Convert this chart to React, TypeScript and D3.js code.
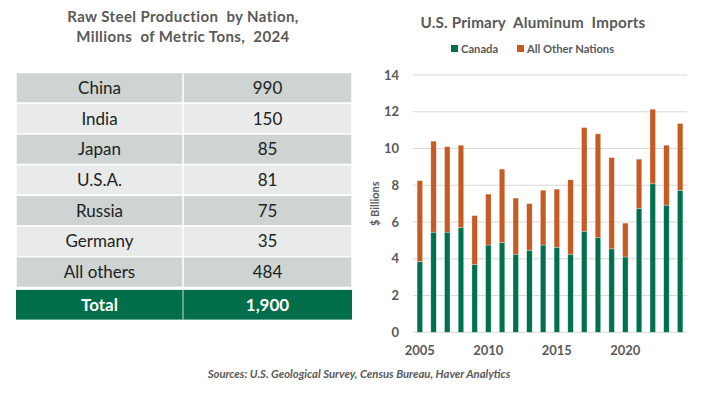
import * as d3 from "d3";
import { useEffect, useRef } from "react";

// ---- table data ----
const nations = ["China", "India", "Japan", "U.S.A.", "Russia", "Germany", "All others"];
const steel = ["990", "150", "85", "81", "75", "35", "484"];
const totalLabel = "Total";
const totalValue = "1,900";

// ---- bar chart data ($ billions) ----
const years = [2005, 2006, 2007, 2008, 2009, 2010, 2011, 2012, 2013, 2014, 2015, 2016, 2017, 2018, 2019, 2020, 2021, 2022, 2023, 2024];
const canada = [3.85, 5.45, 5.45, 5.7, 3.68, 4.75, 4.88, 4.25, 4.47, 4.75, 4.63, 4.25, 5.5, 5.15, 4.54, 4.1, 6.75, 8.08, 6.92, 7.73];
const others = [4.4, 4.95, 4.65, 4.48, 2.67, 2.77, 4.0, 3.05, 2.53, 2.98, 3.16, 4.05, 5.64, 5.65, 4.97, 1.84, 2.67, 4.06, 3.26, 3.63];
const yTicks = [0, 2, 4, 6, 8, 10, 12, 14];
const xTickYears = [2005, 2010, 2015, 2020];

const FONT = "Lato, 'Open Sans', sans-serif";
const GREEN = "#007050";
const ORANGE = "#C55A22";
const GREY = "#595959";

export default function App() {
  const ref = useRef<SVGSVGElement | null>(null);

  useEffect(() => {
    const svg = d3.select(ref.current);
    svg.selectAll("*").remove();
    svg.attr("viewBox", "0 0 716 394").attr("font-family", FONT);

    svg.append("rect").attr("width", 716).attr("height", 394).attr("fill", "#fff");

    // ---- left: table ----
    const tbl = svg.append("g");
    const tx0 = 16, tx1 = 183, tx2 = 352;
    const top = 72.5, rowH = 30.7;

    // 標題（兩行）
    ["Raw Steel Production  by Nation,", "Millions  of Metric Tons,  2024"].forEach((t, i) => {
      tbl.append("text")
        .attr("x", 183).attr("y", 22 + i * 20)
        .attr("text-anchor", "middle")
        .attr("font-size", 15).attr("font-weight", 700).attr("fill", GREY)
        .attr("letter-spacing", 0.4)
        .style("white-space", "pre")
        .text(t);
    });

    const rows = tbl.selectAll("g.row")
      .data(nations)
      .join("g")
      .attr("class", "row")
      .attr("transform", (_, i) => `translate(0,${top + i * rowH})`);

    rows.append("rect")
      .attr("x", tx0).attr("width", tx2 - tx0).attr("height", rowH)
      .attr("fill", (_, i) => (i % 2 === 0 ? "#CDD4D1" : "#E8EBEA"))
      .attr("stroke", "#fff").attr("stroke-width", 1.5);
    rows.append("line")
      .attr("x1", tx1).attr("x2", tx1).attr("y1", 0).attr("y2", rowH)
      .attr("stroke", "#fff").attr("stroke-width", 1.5);
    rows.append("text")
      .attr("x", (tx0 + tx1) / 2).attr("y", rowH / 2 + 6)
      .attr("text-anchor", "middle").attr("font-size", 17).attr("fill", "#222")
      .text((d) => d);
    rows.append("text")
      .attr("x", (tx1 + tx2) / 2).attr("y", rowH / 2 + 6)
      .attr("text-anchor", "middle").attr("font-size", 17).attr("fill", "#222")
      .text((_, i) => steel[i]);

    const ty = top + nations.length * rowH + 2.5;
    const tot = tbl.append("g").attr("transform", `translate(0,${ty})`);
    tot.append("rect")
      .attr("x", tx0).attr("width", tx2 - tx0).attr("height", rowH - 1)
      .attr("fill", "#006E4B");
    tot.append("line")
      .attr("x1", tx1).attr("x2", tx1).attr("y1", 0).attr("y2", rowH - 1)
      .attr("stroke", "#d0d8d4").attr("stroke-width", 1);
    tot.append("text")
      .attr("x", (tx0 + tx1) / 2).attr("y", rowH / 2 + 5.5)
      .attr("text-anchor", "middle").attr("font-size", 17).attr("font-weight", 700).attr("fill", "#fff")
      .text(totalLabel);
    tot.append("text")
      .attr("x", (tx1 + tx2) / 2).attr("y", rowH / 2 + 5.5)
      .attr("text-anchor", "middle").attr("font-size", 17).attr("font-weight", 700).attr("fill", "#fff")
      .text(totalValue);

    // ---- right: stacked bars ----
    const ch = svg.append("g");
    const left = 413, right = 687, yTop = 75, yBot = 332.3;

    ch.append("text")
      .attr("x", 533).attr("y", 28)
      .attr("text-anchor", "middle")
      .attr("font-size", 15.2).attr("font-weight", 700).attr("fill", GREY)
      .attr("letter-spacing", 0.2)
      .style("white-space", "pre")
      .text("U.S. Primary  Aluminum  Imports");

    // legend
    const legend = [
      { name: "Canada", color: GREEN, x: 451 },
      { name: "All Other Nations", color: ORANGE, x: 517 },
    ];
    const lg = ch.selectAll("g.lg").data(legend).join("g").attr("class", "lg")
      .attr("transform", (d) => `translate(${d.x},45)`);
    lg.append("rect").attr("width", 7).attr("height", 7).attr("fill", (d) => d.color);
    lg.append("text").attr("x", 10).attr("y", 7.5)
      .attr("font-size", 11.2).attr("font-weight", 700).attr("fill", GREY)
      .text((d) => d.name);

    const x = d3.scaleBand<number>().domain(years).range([left, right]).paddingInner(0.6).paddingOuter(0.3);
    const y = d3.scaleLinear().domain([0, 14]).range([yBot, yTop]);

    // grid
    ch.append("g")
      .selectAll("line")
      .data(yTicks)
      .join("line")
      .attr("x1", left).attr("x2", right)
      .attr("y1", (d) => y(d)).attr("y2", (d) => y(d))
      .attr("stroke", "#D9D9D9").attr("stroke-width", 1);

    // y axis labels
    ch.append("g")
      .selectAll("text")
      .data(yTicks)
      .join("text")
      .attr("x", 399).attr("y", (d) => y(d) + 4.5)
      .attr("text-anchor", "end").attr("font-size", 13).attr("font-weight", 700).attr("fill", GREY)
      .text((d) => d);

    ch.append("text")
      .attr("transform", `translate(379,${y(7)}) rotate(-90)`)
      .attr("text-anchor", "middle").attr("font-size", 11).attr("font-weight", 700).attr("fill", GREY)
      .text("$ Billions");

    // stacks
    const table = years.map((yr, i) => ({ year: yr, canada: canada[i], others: others[i] }));
    const stack = d3.stack<any>().keys(["canada", "others"])(table);
    const colors: Record<string, string> = { canada: GREEN, others: ORANGE };

    ch.append("g")
      .selectAll("g")
      .data(stack)
      .join("g")
      .attr("fill", (s) => colors[s.key])
      .selectAll("rect")
      .data((s) => s)
      .join("rect")
      .attr("x", (d) => x(d.data.year)!)
      .attr("width", x.bandwidth())
      .attr("y", (d) => y(d[1]))
      .attr("height", (d) => y(d[0]) - y(d[1]))
      .attr("stroke", "rgba(255,255,255,0.5)")
      .attr("stroke-width", 0.6);

    // x labels
    ch.append("g")
      .selectAll("text")
      .data(xTickYears)
      .join("text")
      .attr("x", (d) => x(d)! + x.bandwidth() / 2)
      .attr("y", 355)
      .attr("text-anchor", "middle").attr("font-size", 13).attr("font-weight", 700).attr("fill", GREY)
      .text((d) => d);

    // sources
    svg.append("text")
      .attr("x", 359).attr("y", 378)
      .attr("text-anchor", "middle").attr("font-size", 11.3).attr("font-style", "italic").attr("font-weight", 700)
      .attr("fill", "#595959")
      .text("Sources: U.S. Geological Survey, Census Bureau, Haver Analytics");
  }, []);

  return (
    <svg
      ref={ref}
      width={716}
      height={394}
      style={{ position: "absolute", left: 0, top: 0, display: "block" }}
    />
  );
}
